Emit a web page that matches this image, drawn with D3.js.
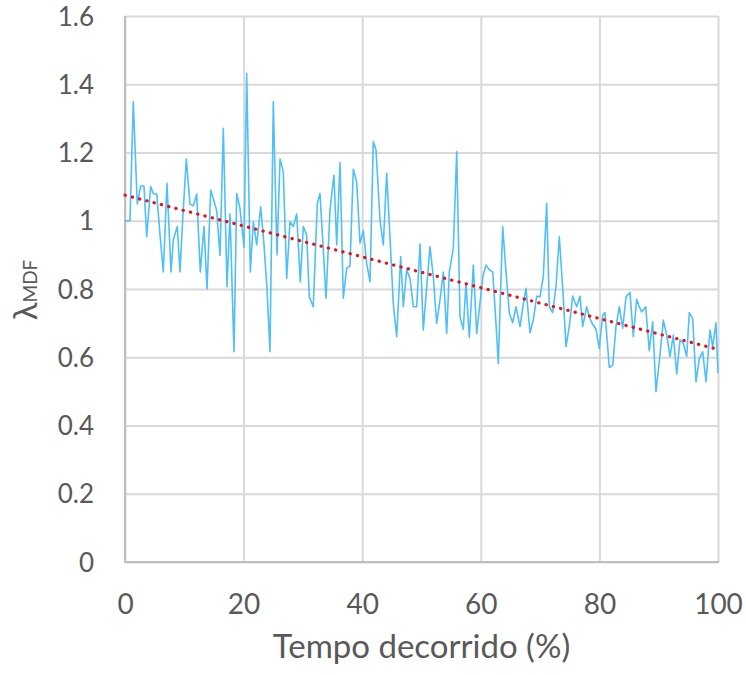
<!DOCTYPE html>
<html>
<head>
<meta charset="utf-8">
<script src="https://cdn.jsdelivr.net/npm/d3@7/dist/d3.min.js"></script>
<style>
  html, body { margin: 0; padding: 0; background: #fff; }
  svg { display: block; }
</style>
</head>
<body>
<svg id="chart" width="746" height="675"></svg>
<script>
// ---- data ----
const xTicks = [0, 20, 40, 60, 80, 100];
const yTicks = [0, 0.2, 0.4, 0.6, 0.8, 1, 1.2, 1.4, 1.6];
const yTickLabels = ["0", "0.2", "0.4", "0.6", "0.8", "1", "1.2", "1.4", "1.6"];

// elapsed time (%)
const elapsed = [
  0, 0.84, 1.40, 2.07, 2.65, 3.20, 3.66, 4.33, 4.77, 5.35, 5.90, 6.46, 7.08, 7.76, 8.15, 8.82, 9.27, 9.78,
  10.34, 10.96, 11.52, 12.09, 12.70, 13.32, 13.83, 14.45, 14.96, 15.46, 16.02, 16.58, 17.20, 17.71, 18.38,
  18.84, 19.39, 20.07, 20.52, 21.13, 21.64, 22.21, 22.88, 23.44, 23.95, 24.45, 25.01, 25.63, 26.14, 26.69,
  27.27, 27.82, 28.38, 28.95, 29.56, 30.07, 30.64, 31.08, 31.75, 32.43, 32.88, 33.39, 33.90, 34.57, 35.24,
  35.70, 36.26, 36.81, 37.39, 37.94, 38.50, 39.07, 39.63, 40.19, 40.76, 41.32, 41.87, 42.33, 43.00, 43.56,
  44.13, 44.69, 45.24, 45.82, 46.49, 46.93, 47.50, 48.06, 48.62, 49.19, 49.75, 50.30, 50.88, 51.43, 51.99,
  52.56, 53.12, 53.68, 54.25, 54.69, 55.36, 55.94, 56.49, 57.05, 57.50, 58.06, 58.74, 59.31, 59.87, 60.37,
  60.88, 61.43, 62.01, 62.56, 62.95, 63.69, 64.25, 64.81, 65.38, 65.94, 66.61, 67.12, 67.62, 68.30, 68.85,
  69.43, 69.98, 70.54, 71.11, 71.55, 72.12, 72.68, 73.24, 73.86, 74.37, 74.92, 75.50, 76.17, 76.73, 77.18,
  77.86, 78.25, 78.70, 79.43, 79.98, 80.56, 80.94, 81.67, 82.24, 82.80, 83.36, 83.93, 84.49, 85.16, 85.72,
  86.29, 86.68, 87.13, 87.81, 88.41, 88.99, 89.54, 90.10, 90.78, 91.35, 91.91, 92.46, 93.04, 93.59, 94.15,
  94.72, 95.16, 95.73, 96.29, 96.85, 97.42, 97.98, 98.65, 99.11, 99.66, 100
];
// lambda MDF values
const lambdaMDF = [
  1.00, 1.00, 1.349, 1.049, 1.102, 1.102, 0.953, 1.10, 1.08, 1.078, 0.96, 0.85, 1.11, 0.85, 0.944, 0.983, 0.85, 1.02,
  1.181, 1.048, 1.044, 1.078, 0.85, 0.983, 0.80, 1.09, 1.06, 1.03, 0.898, 1.271, 0.807, 1.02, 0.616,
  1.08, 1.036, 0.922, 1.432, 0.85, 0.997, 0.929, 1.041, 0.93, 0.80, 0.616, 1.349, 0.90, 1.181, 1.144,
  0.831, 0.997, 0.983, 1.02, 0.821, 0.983, 0.958, 0.777, 0.748, 1.051, 1.08, 0.93, 0.773, 1.031, 1.134,
  0.929, 1.170, 0.773, 0.861, 0.867, 1.151, 1.114, 0.934, 0.971, 0.875, 0.821, 1.232, 1.207, 1.002, 0.929,
  1.139, 0.95, 0.758, 0.660, 0.895, 0.748, 0.856, 0.831, 0.748, 0.748, 0.932, 0.680, 0.807, 0.924, 0.836,
  0.699, 0.768, 0.850, 0.670, 0.850, 0.919, 1.202, 0.719, 0.682, 0.817, 0.658, 0.870, 0.670, 0.76, 0.84,
  0.870, 0.856, 0.85, 0.70, 0.582, 0.983, 0.85, 0.729, 0.701, 0.748, 0.690, 0.75, 0.802, 0.672, 0.709,
  0.779, 0.777, 0.836, 1.051, 0.748, 0.731, 0.807, 0.953, 0.79, 0.631, 0.690, 0.779, 0.748, 0.779, 0.690,
  0.748, 0.72, 0.701, 0.682, 0.626, 0.724, 0.731, 0.57, 0.577, 0.690, 0.748, 0.685, 0.777, 0.790, 0.660,
  0.770, 0.75, 0.733, 0.748, 0.619, 0.704, 0.499, 0.587, 0.709, 0.665, 0.602, 0.665, 0.551, 0.651, 0.641,
  0.602, 0.731, 0.714, 0.528, 0.597, 0.616, 0.528, 0.680, 0.631, 0.701, 0.553
];
// linear trend line (read endpoints)
const trendX = [0, 100];
const trendY = [1.075, 0.623];

// ---- layout ----
const svg = d3.select("#chart");
const plotL = 125, plotR = 718, plotT = 16, plotB = 562;
const x = d3.scaleLinear().domain([0, 100]).range([plotL, plotR]);
const y = d3.scaleLinear().domain([0, 1.6]).range([plotB, plotT]);

const textColor = "#595959";
const gridColor = "#d9d9d9";
const axisColor = "#bfbfbf";
const fontFam = "Lato, 'Open Sans', sans-serif";

// horizontal gridlines + y labels
const gy = svg.append("g")
  .attr("transform", `translate(${plotL},0)`)
  .call(d3.axisLeft(y).tickValues(yTicks).tickSize(-(plotR - plotL)).tickFormat((d, i) => yTickLabels[i]).tickPadding(31));
gy.select(".domain").remove();
gy.selectAll(".tick line").attr("stroke", gridColor).attr("stroke-width", 2);
gy.selectAll(".tick text")
  .attr("fill", textColor)
  .attr("font-family", fontFam)
  .attr("font-size", 26)
  .attr("dy", "0.35em");

// vertical gridlines + x labels
const gx = svg.append("g")
  .attr("transform", `translate(0,${plotB})`)
  .call(d3.axisBottom(x).tickValues(xTicks).tickSize(-(plotB - plotT)).tickFormat(d3.format("d")).tickPadding(0));
gx.select(".domain").remove();
gx.selectAll(".tick line").attr("stroke", gridColor).attr("stroke-width", 2);
gx.selectAll(".tick text")
  .attr("fill", textColor)
  .attr("font-family", fontFam)
  .attr("font-size", 28)
  .attr("y", 52)
  .attr("dy", 0);

// axis lines
svg.append("line")
  .attr("x1", plotL).attr("x2", plotL).attr("y1", plotT).attr("y2", plotB)
  .attr("stroke", axisColor).attr("stroke-width", 2);
svg.append("line")
  .attr("x1", plotL - 1).attr("x2", plotR + 1).attr("y1", plotB).attr("y2", plotB)
  .attr("stroke", axisColor).attr("stroke-width", 2);

// data line
const pts = elapsed.map((d, i) => [d, lambdaMDF[i]]);
svg.append("path")
  .datum(pts)
  .attr("fill", "none")
  .attr("stroke", "#4fc0f7")
  .attr("stroke-width", 1.6)
  .attr("stroke-linejoin", "round")
  .attr("d", d3.line().x(d => x(d[0])).y(d => y(d[1])));

// trend line
const tpts = trendX.map((d, i) => [d, trendY[i]]);
svg.append("path")
  .datum(tpts)
  .attr("fill", "none")
  .attr("stroke", "#e3161d")
  .attr("stroke-width", 3.2)
  .attr("stroke-linecap", "round")
  .attr("stroke-dasharray", "0.3 7.2")
  .attr("d", d3.line().x(d => x(d[0])).y(d => y(d[1])));

// axis titles
svg.append("text")
  .attr("x", (plotL + plotR) / 2)
  .attr("y", 658)
  .attr("text-anchor", "middle")
  .attr("fill", textColor)
  .attr("font-family", fontFam)
  .attr("font-size", 33)
  .text("Tempo decorrido (%)");

const yt = svg.append("text")
  .attr("transform", "translate(37,290) rotate(-90)")
  .attr("text-anchor", "middle")
  .attr("fill", textColor)
  .attr("font-family", fontFam);
yt.append("tspan").attr("font-size", 33).text("λ");
yt.append("tspan").attr("font-size", 19).text("MDF");
</script>
</body>
</html>
